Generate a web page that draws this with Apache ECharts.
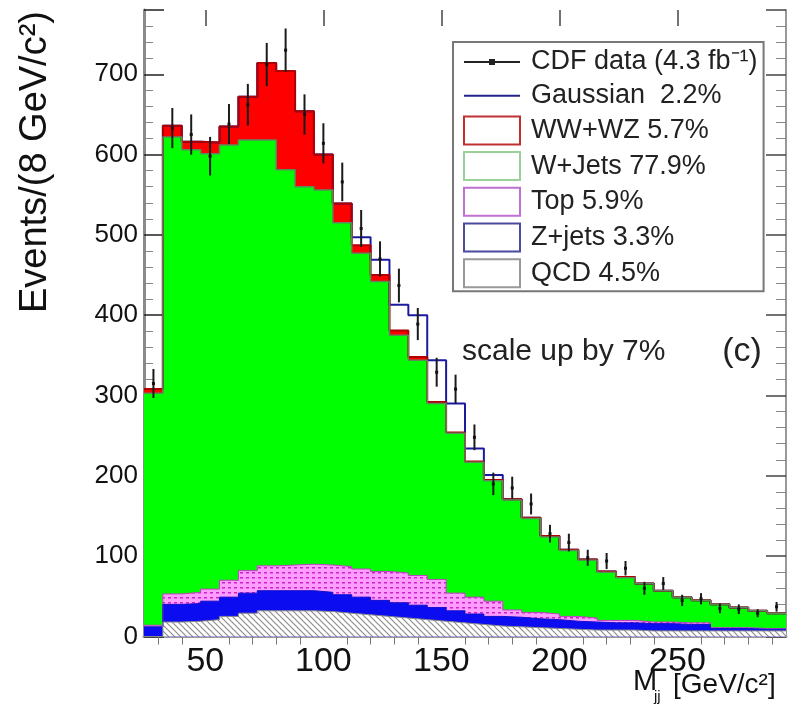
<!DOCTYPE html>
<html>
<head>
<meta charset="utf-8">
<title>CDF Mjj</title>
<script src="https://cdn.jsdelivr.net/npm/echarts@6/dist/echarts.min.js"></script>
<style>
    html, body { margin: 0; padding: 0; background: #fff; }
    #main { width: 788px; height: 707px; }
</style>
</head>
<body>
<div id="main"></div>
<script>
    // 8 GeV/c^2 bins, low edges, last entry is the upper edge of the last bin
    let binEdges = [24, 32, 40, 48, 56, 64, 72, 80, 88, 96, 104, 112, 120, 128, 136, 144, 152, 160, 168,
                    176, 184, 192, 200, 208, 216, 224, 232, 240, 248, 256, 264, 272, 280, 288, 296]

    // stacked components, bottom to top
    let qcd    = [0, 18, 19, 21, 25, 29, 32, 32, 32, 31, 29, 27, 25, 23, 21, 19, 17, 15, 13, 12, 11, 10, 9, 8, 8, 8, 7, 7, 7, 7, 7, 7, 7, 7]
    let zjets  = [12, 22, 22, 23, 24, 25, 25, 25, 25, 24, 23, 22, 20, 19, 18, 17, 15, 13, 12, 12, 11, 11, 10, 10, 9, 9, 9, 9, 8, 8, 3, 3, 2, 2]
    let topQ   = [2, 13, 14, 15, 21, 28, 31, 32, 33, 34, 35, 35, 36, 37, 37, 35, 22, 21, 19, 9, 8, 7, 6, 5, 3, 3, 2, 2, 2, 2, 1, 1, 1, 1]
    let wjets  = [289, 569, 551, 542, 542, 536, 530, 492, 470, 467, 428, 393, 361, 296, 268, 219, 199, 168, 150, 137, 117, 96, 82, 72, 60, 53, 48, 39, 32, 28, 29, 25, 22, 19]
    let wwwz   = [5, 14, 10, 14, 23, 54, 96, 123, 94, 44, 24, 10, 8, 6, 4, 2, 1, 1, 1, 1, 1, 1, 1, 1, 1, 1, 0, 0, 0, 0, 0, 0, 0, 0]
    let gauss  = [0, 0, 0, 0, 0, 0, 0, 0, 0, 0, 0, 10, 19, 32, 52, 52, 36, 16, 6, 0, 0, 0, 0, 0, 0, 0, 0, 0, 0, 0, 0, 0, 0, 0]

    // CDF data and its error bars
    let dataVals = [315, 633, 625, 598, 638, 662, 712, 730, 650, 614, 566, 508, 470, 437, 389, 329, 308, 248, 190, 185, 165, 128, 117, 98, 94, 85, 60, 66, 45, 47, 35, 34, 29, 37]
    let dataErrs = [18, 25, 25, 24, 25, 26, 27, 27, 25, 25, 24, 23, 22, 21, 20, 18, 18, 16, 14, 14, 13, 11, 11, 10, 10, 9, 8, 8, 7, 7, 6, 6, 5, 6]

    let xLabels = [50, 100, 150, 200, 250]
    let xMinor = [30, 40, 60, 70, 80, 90, 110, 120, 130, 140, 160, 170, 180, 190, 210, 220, 230, 240, 260, 270, 280, 290]

    let nameData = 'CDF data (4.3 fb\u207B\u00B9)'
    let nameGauss = 'Gaussian  2.2%'
    let nameWW = 'WW+WZ 5.7%'
    let nameW = 'W+Jets 77.9%'
    let nameTop = 'Top 5.9%'
    let nameZ = 'Z+jets 3.3%'
    let nameQcd = 'QCD 4.5%'

    let fontName = 'Liberation Sans'

    const makePattern = (w, h, bg, draw) => {
        let c = document.createElement('canvas')
        c.width = w
        c.height = h
        let ctx = c.getContext('2d')
        ctx.fillStyle = bg
        ctx.fillRect(0, 0, w, h)
        draw(ctx)
        return { image: c, repeat: 'repeat' }
    }

    let qcdFill = makePattern(6, 6, '#ffffff', (ctx) => {
        ctx.strokeStyle = '#8e8e8e'
        ctx.lineWidth = 1.2
        ctx.beginPath()
        ctx.moveTo(-1, -1); ctx.lineTo(7, 7)
        ctx.moveTo(5, -1); ctx.lineTo(7, 1)
        ctx.moveTo(-1, 5); ctx.lineTo(1, 7)
        ctx.stroke()
    })

    let topFill = makePattern(6, 5, '#ff9cff', (ctx) => {
        ctx.fillStyle = '#cc22cc'
        ctx.fillRect(0, 2, 3, 1.5)
    })

    // cumulative stack, like a THStack: each layer drawn from 0 up to its running total
    let layers = [qcd, zjets, topQ, wjets, wwwz, gauss]
    let cumul = []
    let running = qcd.map(() => 0)
    for (let k = 0; k < layers.length; k++) {
        running = running.map((s, i) => s + layers[k][i])
        cumul.push(running)
    }

    const stepData = (vals) => {
        let pts = vals.map((v, i) => [binEdges[i], v])
        pts.push([binEdges[vals.length], vals[vals.length - 1]])
        return pts
    }

    const layer = (name, vals, fill, line, lw) => {
        return {
            name: name,
            type: 'line',
            step: 'end',
            symbol: 'none',
            data: stepData(vals),
            lineStyle: { color: line, width: lw },
            itemStyle: { color: line },
            areaStyle: { color: fill, opacity: 1, origin: 'start' },
            emphasis: { disabled: true },
        }
    }

    let lineIcon = 'path://M0,0M0,13L56,13L56,15L0,15ZM56,28'
    let dataIcon = 'path://M0,0M0,13L56,13L56,15L0,15ZM25,11L31,11L31,17L25,17ZM56,28'

    let myChart = echarts.init(document.getElementById('main'))

    myChart.setOption({
        animation: false,
        backgroundColor: '#fff',
        grid: { left: 144, right: 2, top: 10, bottom: 70.5, outerBoundsMode: 'none' },
        legend: {
            orient: 'vertical',
            left: 453,
            top: 42,
            padding: [6, 6, 3, 10],
            itemWidth: 56,
            itemHeight: 28,
            itemGap: 5.7,
            borderColor: '#777',
            borderWidth: 2,
            backgroundColor: '#fff',
            selectedMode: false,
            textStyle: { fontFamily: fontName, fontSize: 27, lineHeight: 28, color: '#222', padding: [0, 0, 0, 6] },
            data: [
                { name: nameData, icon: dataIcon, itemStyle: { color: '#222' } },
                { name: nameGauss, icon: lineIcon, itemStyle: { color: '#22228a' } },
                { name: nameWW, icon: 'rect', itemStyle: { color: '#fff', borderColor: '#c03030', borderWidth: 2 } },
                { name: nameW, icon: 'rect', itemStyle: { color: '#fff', borderColor: '#9ad09a', borderWidth: 2 } },
                { name: nameTop, icon: 'rect', itemStyle: { color: '#fff', borderColor: '#c070d0', borderWidth: 2 } },
                { name: nameZ, icon: 'rect', itemStyle: { color: '#fff', borderColor: '#4a4aa0', borderWidth: 2 } },
                { name: nameQcd, icon: 'rect', itemStyle: { color: '#fff', borderColor: '#999', borderWidth: 2 } },
            ],
        },
        xAxis: [
            {
                type: 'value', min: 24, max: 296, position: 'bottom',
                axisLine: { show: true, lineStyle: { color: '#888', width: 2 } },
                axisTick: { inside: true, length: 16, customValues: xLabels, lineStyle: { color: '#333' } },
                axisLabel: { customValues: xLabels, fontSize: 34, margin: 8, color: '#111', fontFamily: fontName },
                splitLine: { show: false },
            },
            {
                type: 'value', min: 24, max: 296, position: 'top',
                axisLine: { show: true, lineStyle: { color: '#999', width: 3 } },
                axisTick: { inside: true, length: 8, customValues: xMinor, lineStyle: { color: '#777' } },
                axisLabel: { show: false },
                splitLine: { show: false },
            },
            {
                type: 'value', min: 24, max: 296, position: 'top',
                axisLine: { show: false },
                axisTick: { inside: true, length: 16, customValues: xLabels, lineStyle: { color: '#444', width: 1.5 } },
                axisLabel: { show: false },
                splitLine: { show: false },
            },
        ],
        yAxis: [
            {
                type: 'value', min: 0, max: 780, interval: 100, position: 'left',
                axisLine: { show: true, lineStyle: { color: '#8a8a8a', width: 3 } },
                axisTick: { inside: true, length: 20, lineStyle: { color: '#222', width: 1.5 } },
                minorTick: { show: true, splitNumber: 5, length: 9, lineStyle: { color: '#888' } },
                axisLabel: { fontSize: 26, margin: 6, color: '#111', fontFamily: fontName, showMaxLabel: false },
                splitLine: { show: false },
            },
            {
                type: 'value', min: 0, max: 780, interval: 100, position: 'right',
                axisLine: { show: true, lineStyle: { color: '#999', width: 2 } },
                axisTick: { inside: true, length: 20, lineStyle: { color: '#444', width: 1.5 } },
                minorTick: { show: true, splitNumber: 5, length: 10, lineStyle: { color: '#888' } },
                axisLabel: { show: false },
                splitLine: { show: false },
            },
        ],
        series: [
            // drawn from the full stack down, so every lower layer covers the ones above it
            layer(nameGauss, cumul[5], '#ffffff', '#1a1aa0', 2),
            layer(nameWW, cumul[4], '#ff0000', '#b00000', 2),
            layer(nameW, cumul[3], '#00ff00', '#5c8a5c', 1.5),
            layer(nameTop, cumul[2], topFill, '#c040c0', 1),
            layer(nameZ, cumul[1], '#0c0cf0', '#1010c8', 1),
            layer(nameQcd, cumul[0], qcdFill, '#888', 1),
            {
                name: nameData,
                type: 'custom',
                z: 10,
                itemStyle: { color: '#222' },
                encode: { x: 0, y: 1 },
                data: dataVals.map((v, i) => [(binEdges[i] + binEdges[i + 1]) / 2, v, dataErrs[i]]),
                renderItem: (params, api) => {
                    let x = api.value(0)
                    let v = api.value(1)
                    let e = api.value(2)
                    let hi = api.coord([x, v + e])
                    let lo = api.coord([x, v - e])
                    let p = api.coord([x, v])
                    return {
                        type: 'group',
                        children: [
                            { type: 'line', shape: { x1: hi[0], y1: hi[1], x2: lo[0], y2: lo[1] }, style: { stroke: '#1a1a1a', lineWidth: 2 } },
                            { type: 'rect', shape: { x: p[0] - 1.5, y: p[1] - 1.5, width: 3, height: 3 }, style: { fill: '#111' } },
                        ],
                    }
                },
            },
        ],
        graphic: [
            {
                type: 'text', x: 36, y: 162, rotation: Math.PI / 2,
                style: { text: 'Events/(8 GeV/c\u00B2)', fontSize: 38, fontFamily: fontName, fill: '#111',
                         align: 'center', verticalAlign: 'middle' },
            },
            {
                type: 'text', x: 462, y: 352,
                style: { text: 'scale up by 7%', fontSize: 30, fontFamily: fontName, fill: '#222',
                         align: 'left', verticalAlign: 'middle' },
            },
            {
                type: 'text', x: 742, y: 352,
                style: { text: '(c)', fontSize: 34, fontFamily: fontName, fill: '#222',
                         align: 'center', verticalAlign: 'middle' },
            },
            {
                type: 'text', x: 633, y: 682,
                style: { text: 'M', fontSize: 29, fontFamily: fontName, fill: '#111', align: 'left', verticalAlign: 'middle' },
            },
            {
                type: 'text', x: 654, y: 697,
                style: { text: 'jj', fontSize: 15, fontFamily: fontName, fill: '#111', align: 'left', verticalAlign: 'middle' },
            },
            {
                type: 'text', x: 673, y: 685,
                style: { text: '[GeV/c\u00B2]', fontSize: 28, fontFamily: fontName, fill: '#111', align: 'left', verticalAlign: 'middle' },
            },
        ],
    })
</script>
</body>
</html>
